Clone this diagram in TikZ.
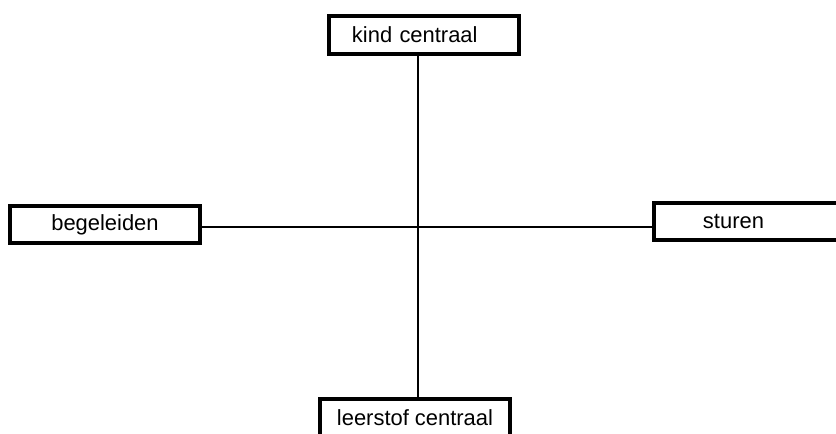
\documentclass[tikz,border=0pt]{standalone}
\usepackage{fontspec}
\setmainfont{Liberation Sans}
\begin{document}
\begin{tikzpicture}[x=0.025cm, y=-0.025cm, font=\fontsize{15.6}{18}\selectfont,
  pole/.style={draw, line width=2.8pt, minimum width=4.75cm, minimum height=0.93cm, inner sep=0pt},
  axis/.style={line width=1.4pt}]
  \useasboundingbox (0,0) rectangle (836,434);
  \clip (0,0) rectangle (836,434);
  \coordinate (X) at (418,227); % crossing
  % the four poles
  \node[pole, minimum height=0.95cm, text width=3.6cm, inner xsep=0.575cm, align=left] (kind) at (424,35) {kind centraal};
  \node[pole] (begel) at (105,224.5) {begeleiden};
  \node[pole, text width=2.3cm, inner xsep=1.225cm, align=left] (sturen) at (749,221.5) {sturen};
  \node[pole] (leerstof) at (415,417.5) {leerstof centraal};
  % axes
  \draw[axis] (kind.south -| X) -- (leerstof.north -| X);
  \draw[axis] (begel.east |- X) -- (sturen.west |- X);
\end{tikzpicture}
\end{document}
